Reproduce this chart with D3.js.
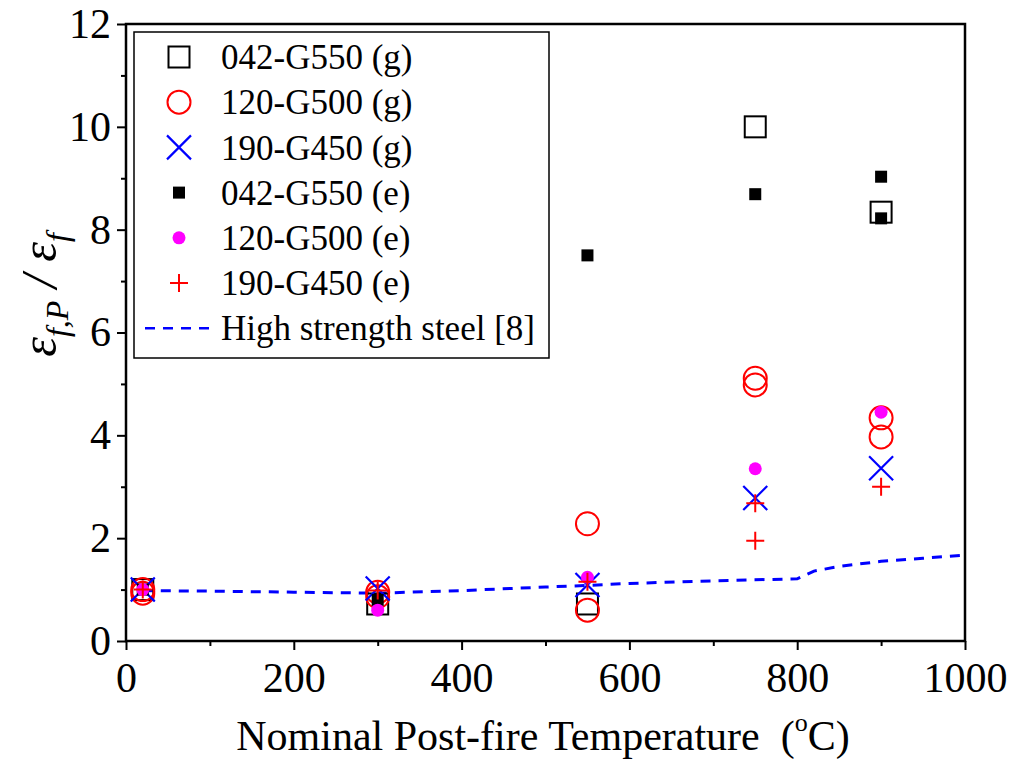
<!DOCTYPE html>
<html><head><meta charset="utf-8">
<script src="https://cdn.jsdelivr.net/npm/d3@7"></script>
<style>body{margin:0;background:#fff}svg{display:block}text{white-space:pre}</style>
</head><body>
<svg id="c" width="1011" height="761"></svg>
<script>
// ---- data ----
const sq_g_T = [20, 300, 550, 750, 900];
const sq_g_V = [1.0, 0.72, 0.72, 10.0, 8.34];
const ci_g_T = [20, 20, 300, 300, 550, 550, 750, 750, 900, 900];
const ci_g_V = [1.0, 0.93, 0.95, 0.86, 2.28, 0.6, 5.11, 4.98, 4.34, 3.97];
const x_g_T = [20, 300, 550, 750, 900];
const x_g_V = [1.0, 1.02, 1.09, 2.78, 3.36];
const sq_e_T = [20, 300, 550, 750, 900, 900];
const sq_e_V = [1.0, 0.8, 7.5, 8.69, 9.03, 8.22];
const dot_e_T = [20, 300, 550, 750, 900];
const dot_e_V = [1.0, 0.6, 1.24, 3.35, 4.45];
const pl_e_T = [20, 300, 550, 750, 750, 900];
const pl_e_V = [1.0, 0.98, 1.15, 2.68, 1.95, 3.0];
const hss_T = [20, 100, 200, 300, 400, 500, 550, 600, 700, 800, 820, 850, 900, 950, 1000];
const hss_V = [0.98, 0.97, 0.95, 0.93, 0.98, 1.05, 1.08, 1.12, 1.17, 1.21, 1.36, 1.45, 1.55, 1.61, 1.67];
const legendLabels = ["042-G550 (g)", "120-G500 (g)", "190-G450 (g)", "042-G550 (e)", "120-G500 (e)", "190-G450 (e)", "High strength steel [8]"];
const xTicks = [0, 200, 400, 600, 800, 1000];
const yTicks = [0, 2, 4, 6, 8, 10, 12];

// ---- layout ----
const svg = d3.select("#c");
const L = 126, R = 965, T = 24, B = 641;
const x = d3.scaleLinear().domain([0, 1000]).range([L, R]);
const y = d3.scaleLinear().domain([0, 12]).range([B, T]);
const font = "'Liberation Serif', 'Times New Roman', serif";

// line
svg.append("path")
  .datum(hss_T.map((t, i) => [t, hss_V[i]]))
  .attr("d", d3.line().x(d => x(d[0])).y(d => y(d[1])))
  .attr("fill", "none").attr("stroke", "#0000ff").attr("stroke-width", 3)
  .attr("stroke-dasharray", "10,8");

// markers
function sym(g, type, cx, cy) {
  if (type === "sqo") g.append("rect").attr("x", cx - 10.5).attr("y", cy - 10.5).attr("width", 21).attr("height", 21)
    .attr("fill", "none").attr("stroke", "#000").attr("stroke-width", 2);
  if (type === "cir") g.append("circle").attr("cx", cx).attr("cy", cy).attr("r", 11.5)
    .attr("fill", "none").attr("stroke", "#ff0000").attr("stroke-width", 2);
  if (type === "x") g.append("path").attr("d", `M${cx-12},${cy-12}L${cx+12},${cy+12}M${cx-12},${cy+12}L${cx+12},${cy-12}`)
    .attr("stroke", "#0000ff").attr("stroke-width", 2.2).attr("fill", "none");
  if (type === "sqf") g.append("rect").attr("x", cx - 6).attr("y", cy - 6).attr("width", 12).attr("height", 12).attr("fill", "#000");
  if (type === "dot") g.append("circle").attr("cx", cx).attr("cy", cy).attr("r", 6.5).attr("fill", "#ff00ff");
  if (type === "plus") g.append("path").attr("d", `M${cx-9},${cy}L${cx+9},${cy}M${cx},${cy-9}L${cx},${cy+9}`)
    .attr("stroke", "#ff0000").attr("stroke-width", 2).attr("fill", "none");
}
const series = [
  ["sqo", sq_g_T, sq_g_V], ["cir", ci_g_T, ci_g_V], ["x", x_g_T, x_g_V],
  ["sqf", sq_e_T, sq_e_V], ["dot", dot_e_T, dot_e_V], ["plus", pl_e_T, pl_e_V]
];
const mg = svg.append("g");
series.forEach(([type, Ts, Vs]) => Ts.forEach((t, i) => sym(mg, type, x(t), y(Vs[i]))));

// axes
const ax = svg.append("g").attr("transform", `translate(0,${B})`)
  .call(d3.axisBottom(x).tickValues(xTicks).tickSize(9).tickPadding(12).tickFormat(d3.format("d")));
const axm = svg.append("g").attr("transform", `translate(0,${B})`)
  .call(d3.axisBottom(x).tickValues([100, 300, 500, 700, 900]).tickSize(5).tickFormat(""));
const ay = svg.append("g").attr("transform", `translate(${L},0)`)
  .call(d3.axisLeft(y).tickValues(yTicks).tickSize(9).tickPadding(6).tickFormat(d3.format("d")));
const aym = svg.append("g").attr("transform", `translate(${L},0)`)
  .call(d3.axisLeft(y).tickValues([1, 3, 5, 7, 9, 11]).tickSize(5).tickFormat(""));
[ax, axm, ay, aym].forEach(a => {
  a.select(".domain").remove();
  a.selectAll("line").attr("stroke", "#000").attr("stroke-width", 2);
  a.selectAll("text").attr("font-family", font).attr("font-size", 42).attr("fill", "#000");
});
ax.selectAll("text").attr("dy", "0.71em");
// frame
svg.append("rect").attr("x", L).attr("y", T).attr("width", R - L).attr("height", B - T)
  .attr("fill", "none").attr("stroke", "#000").attr("stroke-width", 2.5);

// axis titles
const xt = svg.append("text").attr("x", 543).attr("y", 750).attr("text-anchor", "middle")
  .attr("font-family", font).attr("font-size", 42).attr("fill", "#000");
xt.append("tspan").text("Nominal Post-fire Temperature  (");
xt.append("tspan").attr("font-size", 26).attr("dy", -19).text("o");
xt.append("tspan").attr("dy", 19).text("C)");

const yt = svg.append("text").attr("transform", "translate(56,295) rotate(-90)").attr("text-anchor", "middle")
  .attr("font-family", font).attr("font-size", 50).attr("font-style", "italic").attr("fill", "#000");
yt.append("tspan").text("ε");
yt.append("tspan").attr("font-size", 32).attr("dy", 12).text("f,P");
yt.append("tspan").attr("dy", -12).text(" / ε");
yt.append("tspan").attr("font-size", 32).attr("dy", 12).text("f");

// legend
const lg = svg.append("g");
lg.append("rect").attr("x", 134).attr("y", 32).attr("width", 415).attr("height", 326)
  .attr("fill", "#fff").attr("stroke", "#000").attr("stroke-width", 1.5);
const legTypes = ["sqo", "cir", "x", "sqf", "dot", "plus", "line"];
legTypes.forEach((tp, i) => {
  const cy = 57 + i * 45.2;
  if (tp === "line") {
    lg.append("line").attr("x1", 145).attr("x2", 213).attr("y1", cy).attr("y2", cy)
      .attr("stroke", "#0000ff").attr("stroke-width", 2.5).attr("stroke-dasharray", "10,8");
  } else sym(lg, tp, 179, cy);
  lg.append("text").attr("x", 221).attr("y", cy).attr("dy", "0.35em")
    .attr("font-family", font).attr("font-size", 35).attr("fill", "#000").text(legendLabels[i]);
});
</script>
</body></html>
